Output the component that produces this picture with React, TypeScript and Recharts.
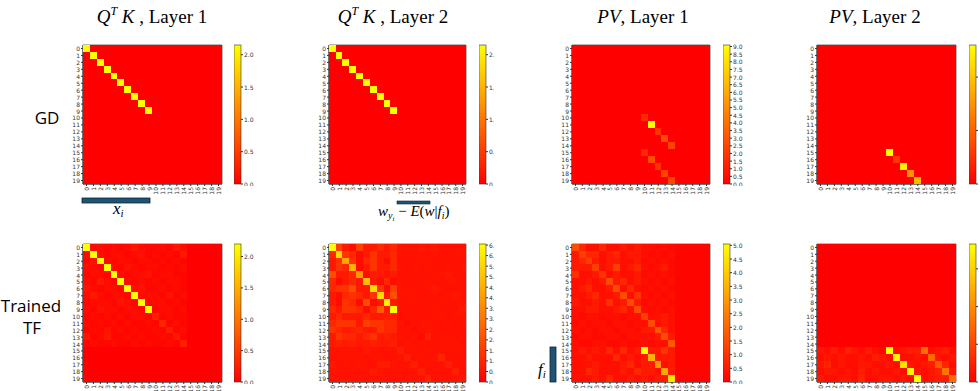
import { ScatterChart, Scatter, XAxis, YAxis, ReferenceArea, BarChart, Bar } from 'recharts'

type Cell = [number, number, number] // row, col, value

const SIZE = 20
const INDEX = Array.from({ length: SIZE }, (_, i) => i)

// GD, Q^T K layer 1 and layer 2: a block of ten yellow cells on the diagonal
const gdQk1Cells: Cell[] = [
  [0, 0, 2.15], [1, 1, 2.15], [2, 2, 2.15], [3, 3, 2.15], [4, 4, 2.15],
  [5, 5, 2.15], [6, 6, 2.15], [7, 7, 2.15], [8, 8, 2.15], [9, 9, 2.15],
]
const gdQk2Cells: Cell[] = [
  [0, 0, 2.15], [1, 1, 2.15], [2, 2, 2.15], [3, 3, 2.15], [4, 4, 2.15],
  [5, 5, 2.15], [6, 6, 2.15], [7, 7, 2.15], [8, 8, 2.15], [9, 9, 2.15],
]
// GD, PV
const gdPv1Cells: Cell[] = [
  [10, 10, 1.4], [11, 11, 9.1], [12, 12, 1.8], [13, 13, 2.7], [14, 14, 2.4],
  [15, 10, 1.4], [16, 11, 2.7], [17, 12, 1.8], [18, 13, 2.5], [19, 14, 2.5],
]
const gdPv2Cells: Cell[] = [
  [15, 10, 2.6], [16, 11, 0.55], [17, 12, 2.45], [18, 13, 1.5], [19, 14, 1.85],
]

// Trained TF, one string per row
const tfQk1Rows = [
  '2.15 0.05 0.1 0.05 0.1 0.05 0.1 0.2 0.1 0.05 0.05 0.1 0.05 0.2 0.1 0 0 0 0 0',
  '0.1 2.15 0.1 0.05 0.1 0.1 0.05 0.1 0.15 0.05 0.1 0.05 0.1 0.05 0.2 0 0 0 0 0',
  '0.05 0.15 2.15 0.1 0.05 0.1 0.1 0.05 0.1 0.1 0.05 0.1 0.05 0.1 0.05 0 0 0 0 0',
  '0.1 0.1 0.05 2.15 0.1 0.05 0.15 0.1 0.05 0.1 0.1 0.05 0.1 0.05 0.1 0 0 0 0 0',
  '0.05 0.1 0.1 0.05 2.15 0.1 0.05 0.1 0.1 0.15 0.05 0.1 0.1 0.05 0.05 0 0 0 0 0',
  '0.1 0.05 0.2 0.1 0.05 2.15 0.1 0.05 0.1 0.05 0.1 0.05 0.1 0.1 0.05 0 0 0 0 0',
  '0.15 0.1 0.05 0.1 0.1 0.05 2.15 0.1 0.15 0.05 0.05 0.1 0.05 0.1 0.05 0 0 0 0 0',
  '0.1 0.2 0.1 0.05 0.1 0.1 0.05 2.15 0.1 0.1 0.1 0.05 0.15 0.05 0.1 0 0 0 0 0',
  '0.05 0.1 0.1 0.1 0.05 0.15 0.1 0.05 2.15 0.05 0.1 0.1 0.05 0.1 0.05 0 0 0 0 0',
  '0.1 0.05 0.15 0.1 0.1 0.05 0.1 0.1 0.05 2.15 0.05 0.1 0.1 0.05 0.1 0 0 0 0 0',
  '0.05 0.1 0.05 0.1 0.05 0.1 0.05 0.1 0.1 0.05 0.25 0.05 0.1 0.05 0.05 0 0 0 0 0',
  '0.1 0.05 0.1 0.05 0.1 0.05 0.1 0.05 0.05 0.1 0.05 0.3 0.05 0.1 0.05 0 0 0 0 0',
  '0.05 0.1 0.05 0.15 0.05 0.1 0.05 0.1 0.05 0.05 0.1 0.05 0.25 0.05 0.1 0 0 0 0 0',
  '0.2 0.05 0.1 0.2 0.05 0.05 0.1 0.05 0.1 0.05 0.05 0.1 0.05 0.2 0.05 0 0 0 0 0',
  '0.05 0.1 0.05 0.05 0.1 0.05 0.05 0.1 0.05 0.1 0.05 0.05 0.1 0.05 0.25 0 0 0 0 0',
  '0 0 0 0 0 0 0 0 0 0 0 0 0 0 0 0 0 0 0 0',
  '0 0 0 0 0 0 0 0 0 0 0 0 0 0 0 0 0 0 0 0',
  '0 0 0 0 0 0 0 0 0 0 0 0 0 0 0 0 0 0 0 0',
  '0 0 0 0 0 0 0 0 0 0 0 0 0 0 0 0 0 0 0 0',
  '0 0 0 0 0 0 0 0 0 0 0 0 0 0 0 0 0 0 0 0',
]

const tfQk2Rows = [
  '6.55 1.6 0.65 0.3 1.6 0.65 0.65 1.0 0.65 1.0 0.5 0.5 0.4 0.6 0.5 0.6 0.5 0.4 0.5 0.4',
  '1.0 5.6 1.3 1.0 0.3 0.65 1.3 0.65 0.65 1.0 0.5 0.4 0.5 0.5 0.4 0.5 0.4 0.5 0.4 0.5',
  '0.65 1.3 4.3 1.3 0.3 1.0 1.3 0.65 0.3 1.0 0.4 0.5 0.4 0.5 0.5 0.4 0.5 0.4 0.5 0.4',
  '0.65 1.3 1.0 4.6 0.3 0.65 1.3 0.65 0.65 1.0 0.5 0.4 0.5 0.4 0.5 0.5 0.4 0.5 0.4 0.5',
  '2.0 0.65 0.65 1.0 3.9 0.3 0.65 0.65 0.5 0.65 0.4 0.5 0.5 0.4 0.4 0.5 0.5 0.6 0.4 0.4',
  '1.0 0.3 0.65 1.0 0.65 4.9 0.65 0.3 1.0 0.3 0.5 0.4 0.4 0.5 0.5 0.4 0.4 0.5 0.5 0.4',
  '1.0 1.3 1.3 2.0 0.65 0.65 5.6 1.3 0.3 1.6 0.5 0.5 0.4 0.4 0.5 0.6 0.5 0.4 0.4 0.5',
  '0.65 0.3 1.0 1.3 1.0 0.65 1.3 5.6 0.65 2.0 0.4 0.5 0.5 0.4 0.4 0.5 0.4 0.5 0.6 0.4',
  '0.65 0.3 1.3 1.0 0.3 2.0 0.3 0.65 6.2 0.65 0.5 0.4 0.5 0.5 0.5 0.4 0.5 0.4 0.5 0.5',
  '1.0 0.65 1.3 1.3 1.0 0.3 1.0 2.3 0.65 6.55 0.4 0.5 0.4 0.4 0.5 0.5 0.4 0.5 0.4 0.6',
  '0.65 1.0 0.65 0.65 0.65 1.0 0.65 0.65 0.8 0.8 0.3 0.4 0.5 0.4 0.4 0.5 0.5 0.4 0.5 0.4',
  '1.0 1.3 1.3 1.3 0.65 1.6 1.3 1.3 1.0 1.0 0.5 0.3 0.4 0.5 0.5 0.4 0.4 0.5 0.4 0.5',
  '1.3 1.0 0.65 0.8 1.0 0.65 0.65 1.3 1.0 1.0 0.4 0.5 0.3 0.4 0.5 0.5 0.4 0.4 0.5 0.4',
  '0.65 1.3 1.0 1.0 0.65 1.0 1.3 0.65 0.8 0.65 0.5 0.4 0.5 0.3 0.8 0.4 0.5 0.5 0.4 0.5',
  '0.65 0.8 0.65 0.8 0.65 0.65 0.8 0.65 0.65 0.8 0.4 0.5 0.4 0.5 0.4 0.5 0.4 0.5 0.5 0.4',
  '0.5 0.4 0.5 0.5 0.4 0.6 0.5 0.4 0.5 0.5 0.8 0.4 0.5 0.4 0.5 0.4 0.5 0.5 0.4 0.5',
  '0.4 0.5 0.4 0.5 0.5 0.4 0.5 0.5 0.4 0.4 0.5 0.8 0.4 0.5 0.4 0.5 0.9 0.4 0.5 0.4',
  '0.6 0.4 0.5 0.4 0.5 0.5 0.4 0.7 0.7 0.5 0.4 0.5 0.8 0.4 0.5 0.4 0.5 0.8 0.4 0.5',
  '0.5 0.5 0.4 0.5 0.4 0.5 0.7 0.5 0.4 0.5 0.5 0.4 0.5 0.8 0.4 0.5 0.4 0.5 0.8 0.4',
  '0.4 0.5 0.5 0.4 0.5 0.4 0.5 0.5 0.5 0.4 0.4 0.5 0.4 0.5 0.9 0.4 0.5 0.4 0.5 0.6',
]

const tfPv1Rows = [
  '1.5 0.75 0.3 0.3 0.75 0.3 0.3 0.5 0.3 0.5 0.3 0.3 0.2 0.3 0.2 0.1 0.1 0.1 0.1 0.1',
  '0.5 1.25 0.75 0.75 0.3 0.5 0.75 0.3 0.5 0.5 0.3 0.2 0.3 0.2 0.3 0.1 0.1 0.1 0.1 0.1',
  '0.5 0.75 1.25 0.5 0.3 0.5 0.5 0.3 0.3 0.5 0.2 0.3 0.2 0.3 0.2 0.1 0.1 0.1 0.1 0.1',
  '0.5 0.5 0.5 1.25 0.3 0.5 1.25 0.3 0.5 0.75 0.3 0.2 0.3 0.5 0.2 0.1 0.1 0.1 0.1 0.1',
  '1.0 0.3 0.3 0.5 1.0 0.3 0.5 0.3 0.3 0.5 0.2 0.3 0.2 0.3 0.2 0.1 0.1 0.1 0.1 0.1',
  '0.3 0.3 0.5 0.3 0.5 1.5 0.5 0.75 0.3 0.5 0.3 0.2 0.3 0.2 0.3 0.1 0.1 0.1 0.1 0.1',
  '0.3 0.5 0.75 0.3 0.3 0.5 1.5 0.3 0.75 0.3 0.2 0.3 0.2 0.3 0.2 0.1 0.1 0.1 0.1 0.1',
  '0.3 0.3 0.5 0.75 0.3 0.3 0.5 1.5 0.3 1.0 0.3 0.2 0.3 0.2 0.3 0.1 0.1 0.1 0.1 0.1',
  '0.5 0.3 0.3 0.5 0.3 1.0 0.3 0.5 1.5 0.5 0.2 0.3 0.2 0.3 0.2 0.1 0.1 0.1 0.1 0.1',
  '0.3 0.3 0.5 0.5 0.3 0.3 0.5 0.75 0.3 1.5 0.3 0.2 0.3 0.2 0.3 0.1 0.1 0.1 0.1 0.1',
  '0.3 0.2 0.3 0.3 0.2 0.3 0.3 0.2 0.3 0.3 1.25 0.3 0.3 0.5 0.3 0.1 0.1 0.1 0.1 0.1',
  '0.2 0.3 0.2 0.3 0.3 0.2 0.3 0.3 0.2 0.3 0.3 1.5 0.3 0.5 0.3 0.1 0.1 0.1 0.1 0.1',
  '0.3 0.2 0.3 0.2 0.3 0.3 0.2 0.3 0.3 0.2 0.5 0.5 1.75 0.75 0.3 0.1 0.1 0.1 0.1 0.1',
  '0.2 0.3 0.3 0.2 0.2 0.3 0.3 0.2 0.3 0.3 0.3 0.3 0.5 1.5 0.5 0.1 0.1 0.1 0.1 0.1',
  '0.3 0.2 0.2 0.3 0.3 0.2 0.2 0.3 0.2 0.2 0.3 0.2 0.3 0.3 1.75 0.1 0.1 0.1 0.1 0.1',
  '0.3 0.5 0.3 0.5 0.3 0.75 0.3 0.75 0.3 0.5 5.05 0.5 0.5 1.0 0.5 0.1 0.1 0.1 0.1 0.1',
  '0.3 0.3 0.5 0.3 0.3 0.3 0.75 0.3 0.5 0.3 0.5 3.5 0.5 0.5 0.5 0.1 0.1 0.1 0.1 0.1',
  '0.3 0.3 0.3 0.5 0.3 0.3 0.3 0.5 0.75 0.3 0.5 0.5 3.0 0.3 0.5 0.1 0.1 0.1 0.1 0.1',
  '0.3 0.3 0.75 0.5 0.3 0.3 0.3 0.5 0.3 0.75 0.5 0.5 0.3 3.3 0.5 0.1 0.1 0.1 0.1 0.1',
  '0.3 0.3 0.3 0.5 0.3 0.75 0.3 0.3 0.5 0.3 0.5 0.3 0.5 0.5 4.5 0.1 0.1 0.1 0.1 0.1',
]

const tfPv2Rows = [
  '0 0 0 0 0 0 0 0 0 0 0 0 0 0 0 0 0 0 0 0',
  '0 0 0 0 0 0 0 0 0 0 0 0 0 0 0 0 0 0 0 0',
  '0 0 0 0 0 0 0 0 0 0 0 0 0 0 0 0 0 0 0 0',
  '0 0 0 0 0 0 0 0 0 0 0 0 0 0 0 0 0 0 0 0',
  '0 0 0 0 0 0 0 0 0 0 0 0 0 0 0 0 0 0 0 0',
  '0 0 0 0 0 0 0 0 0 0 0 0 0 0 0 0 0 0 0 0',
  '0 0 0 0 0 0 0 0 0 0 0 0 0 0 0 0 0 0 0 0',
  '0 0 0 0 0 0 0 0 0 0 0 0 0 0 0 0 0 0 0 0',
  '0 0 0 0 0 0 0 0 0 0 0 0 0 0 0 0 0 0 0 0',
  '0 0 0 0 0 0 0 0 0 0 0 0 0 0 0 0 0 0 0 0',
  '0 0 0 0 0 0 0 0 0 0 0 0 0 0 0 0 0 0 0 0',
  '0 0 0 0 0 0 0 0 0 0 0 0 0 0 0 0 0 0 0 0',
  '0 0 0 0 0 0 0 0 0 0 0 0 0 0 0 0 0 0 0 0',
  '0 0 0 0 0 0 0 0 0 0 0 0 0 0 0 0 0 0 0 0',
  '0 0 0 0 0 0 0 0 0 0 0 0 0 0 0 0 0 0 0 0',
  '0.3 0.2 0.4 0.2 0.5 0.3 0.2 0.4 0.2 0.1 3.66 0.2 0.3 0.4 0.4 1.6 0.2 0.3 0.4 0.2',
  '0.2 0.3 0.2 0.3 0.2 0.2 0.3 0.2 0.4 0.3 0.2 3.5 0.2 0.2 0.3 0.2 1.5 0.3 0.2 0.3',
  '0.3 0.5 0.2 0.3 0.2 0.2 0.3 0.3 0.2 0.2 0.3 0.2 3.2 0.3 0.2 0.3 0.4 1.3 0.5 0.2',
  '0.2 0.3 0.3 0.2 0.3 0.2 0.4 0.2 0.3 0.2 0.2 0.3 0.2 3.5 0.3 0.2 0.3 0.5 1.7 0.3',
  '0.3 0.2 0.2 0.3 0.3 0.2 0.5 0.2 0.2 0.3 0.3 0.2 0.3 0.2 3.66 0.2 0.3 0.4 0.4 1.6',
]

// colour bar ranges and ticks
const qkMax = 2.15
const qkTicks = [0, 0.5, 1, 1.5, 2]
const gdPv1Max = 9.1
const gdPv1Ticks = [0, 0.5, 1, 1.5, 2, 2.5, 3, 3.5, 4, 4.5, 5, 5.5, 6, 6.5, 7, 7.5, 8, 8.5, 9]
const gdPv2Max = 2.6
const gdPv2Ticks = [0, 1, 2]
const tfQk2Max = 6.55
const tfQk2Ticks = [0, 0.5, 1, 1.5, 2, 2.5, 3, 3.5, 4, 4.5, 5, 5.5, 6, 6.5]
const tfPv1Max = 5.05
const tfPv1Ticks = [0, 0.5, 1, 1.5, 2, 2.5, 3, 3.5, 4, 4.5, 5]
const tfPv2Max = 3.66
const tfPv2Ticks = [0, 1, 2, 3]

const fromCells = (cells: Cell[]) => {
  const g = INDEX.map(() => INDEX.map(() => 0))
  cells.forEach(([r, c, v]) => { g[r][c] = v })
  return g
}
const fromRows = (rows: string[]) => rows.map((l) => l.trim().split(/\s+/).map(Number))

const autumn = (v: number, max: number) => {
  const t = Math.max(0, Math.min(1, v / max))
  return `rgb(255,${Math.round(255 * t)},0)`
}

const TICK_FONT = 'DejaVu Sans'
const AXIS = '#333'

function XTick({ x, y, payload }: any) {
  return (
    <text
      transform={`translate(${x},${y}) rotate(-90)`}
      textAnchor="end"
      dominantBaseline="central"
      fontSize={6}
      fill={AXIS}
      fontFamily={TICK_FONT}
    >
      {payload.value}
    </text>
  )
}

function YTick({ x, y, payload }: any) {
  return (
    <text x={x} y={y} textAnchor="end" dominantBaseline="central" fontSize={6} fill={AXIS} fontFamily={TICK_FONT}>
      {payload.value}
    </text>
  )
}

function BarTick({ x, y, payload }: any) {
  return (
    <text x={x} y={y} textAnchor="start" dominantBaseline="central" fontSize={6} fill={AXIS} fontFamily={TICK_FONT}>
      {Number(payload.value).toFixed(1)}
    </text>
  )
}

interface HeatmapProps {
  grid: number[][]
  max: number
  left: number
  top: number
  w: number
  h: number
}

function Heatmap({ grid, max, left, top, w, h }: HeatmapProps) {
  const data: { x: number; y: number; v: number }[] = []
  grid.forEach((row, y) => row.forEach((v, x) => data.push({ x, y, v })))
  const cw = w / SIZE
  const ch = h / SIZE
  const yw = 22
  return (
    <div style={{ position: 'absolute', left: left - yw, top: top - 2 }}>
      <ScatterChart width={yw + w + 2} height={h + 2 + 14} margin={{ top: 2, right: 2, bottom: 0, left: 0 }}>
        <XAxis
          type="number"
          dataKey="x"
          domain={[-0.5, 19.5]}
          ticks={INDEX}
          interval={0}
          height={14}
          tickSize={2}
          tickMargin={1}
          stroke={AXIS}
          tick={<XTick />}
        />
        <YAxis
          type="number"
          dataKey="y"
          domain={[-0.5, 19.5]}
          reversed
          ticks={INDEX}
          interval={0}
          width={yw}
          tickSize={2}
          tickMargin={1}
          stroke={AXIS}
          tick={<YTick />}
        />
        <Scatter
          data={data}
          isAnimationActive={false}
          shape={(p: any) => (
            <rect
              x={p.cx - cw / 2 - 0.3}
              y={p.cy - ch / 2 - 0.3}
              width={cw + 0.6}
              height={ch + 0.6}
              fill={autumn(p.payload.v, max)}
              shapeRendering="crispEdges"
            />
          )}
        />
        <ReferenceArea x1={-0.5} x2={19.5} y1={-0.5} y2={19.5} fill="none" stroke={AXIS} strokeWidth={0.7} ifOverflow="visible" />
      </ScatterChart>
    </div>
  )
}

interface ColorbarProps {
  id: string
  max: number
  ticks: number[]
  left: number
  top: number
  h: number
  clip?: number
}

function Colorbar({ id, max, ticks, left, top, h, clip }: ColorbarProps) {
  const w = 7
  const aw = 22
  return (
    <div style={{ position: 'absolute', left, top: top - 2, width: clip ?? w + aw, height: h + 4, overflow: 'hidden' }}>
      <BarChart width={w + aw} height={h + 4} data={[{ name: 'bar', v: max }]} margin={{ top: 2, right: 0, bottom: 2, left: 0 }} barCategoryGap={0}>
        <XAxis dataKey="name" hide />
        <YAxis
          orientation="right"
          type="number"
          domain={[0, max]}
          ticks={ticks}
          interval={0}
          width={aw}
          tickSize={2}
          tickMargin={1}
          axisLine={false}
          stroke={AXIS}
          tick={<BarTick />}
        />
        <Bar
          dataKey="v"
          isAnimationActive={false}
          shape={(p: any) => (
            <g>
              <defs>
                <linearGradient id={id} x1="0" y1="0" x2="0" y2="1">
                  <stop offset="0" stopColor="#ffff00" />
                  <stop offset="1" stopColor="#ff0000" />
                </linearGradient>
              </defs>
              <rect x={p.x} y={p.y} width={p.width} height={p.height} fill={`url(#${id})`} stroke={AXIS} strokeWidth={0.6} />
            </g>
          )}
        />
      </BarChart>
    </div>
  )
}

const SERIF = 'Liberation Serif'

function Title({ x, children }: { x: number; children: any }) {
  return (
    <text x={x} y={23} textAnchor="middle" fontFamily={SERIF} fontSize={19} fill="#000">
      {children}
    </text>
  )
}

const QK = (n: string) => [
  <tspan key="q" fontStyle="italic">Q</tspan>,
  <tspan key="t" fontStyle="italic" fontSize={12} dy={-8}>T</tspan>,
  <tspan key="k" fontStyle="italic" dy={8}> K</tspan>,
  <tspan key="l"> , Layer {n}</tspan>,
]

const PV = (n: string) => [
  <tspan key="p" fontStyle="italic">PV</tspan>,
  <tspan key="l">, Layer {n}</tspan>,
]

export default function App() {
  const r1 = 45
  const r2 = 244
  return (
    <div style={{ position: 'absolute', left: 0, top: 0, width: 980, height: 391, overflow: 'hidden', background: '#fff' }}>
      <Heatmap grid={fromCells(gdQk1Cells)} max={qkMax} left={83} top={r1} w={139} h={139} />
      <Colorbar id="cb1" max={qkMax} ticks={qkTicks} left={234} top={r1} h={139} />
      <Heatmap grid={fromCells(gdQk2Cells)} max={qkMax} left={329} top={r1} w={137} h={139} />
      <Colorbar id="cb2" max={qkMax} ticks={qkTicks} left={479} top={r1} h={139} clip={15} />
      <Heatmap grid={fromCells(gdPv1Cells)} max={gdPv1Max} left={572} top={r1} w={138} h={139} />
      <Colorbar id="cb3" max={gdPv1Max} ticks={gdPv1Ticks} left={723} top={r1} h={139} />
      <Heatmap grid={fromCells(gdPv2Cells)} max={gdPv2Max} left={817} top={r1} w={139} h={139} />
      <Colorbar id="cb4" max={gdPv2Max} ticks={gdPv2Ticks} left={969} top={r1} h={139} clip={10} />

      <Heatmap grid={fromRows(tfQk1Rows)} max={qkMax} left={83} top={r2} w={139} h={138} />
      <Colorbar id="cb5" max={2.2} ticks={qkTicks} left={234} top={r2} h={138} />
      <Heatmap grid={fromRows(tfQk2Rows)} max={tfQk2Max} left={329} top={r2} w={137} h={138} />
      <Colorbar id="cb6" max={tfQk2Max} ticks={tfQk2Ticks} left={479} top={r2} h={138} clip={15} />
      <Heatmap grid={fromRows(tfPv1Rows)} max={tfPv1Max} left={572} top={r2} w={138} h={138} />
      <Colorbar id="cb7" max={tfPv1Max} ticks={tfPv1Ticks} left={723} top={r2} h={138} />
      <Heatmap grid={fromRows(tfPv2Rows)} max={tfPv2Max} left={817} top={r2} w={139} h={138} />
      <Colorbar id="cb8" max={tfPv2Max} ticks={tfPv2Ticks} left={969} top={r2} h={138} clip={10} />

      <svg width={980} height={391} style={{ position: 'absolute', left: 0, top: 0, pointerEvents: 'none' }}>
        <Title x={152}>{QK('1')}</Title>
        <Title x={393}>{QK('2')}</Title>
        <Title x={643}>{PV('1')}</Title>
        <Title x={875}>{PV('2')}</Title>

        <text x={47} y={124} textAnchor="middle" fontFamily="Open Sans" fontSize={17} fill="#000">GD</text>
        <text x={31} y={312} textAnchor="middle" fontFamily="Open Sans" fontSize={17} fill="#000">Trained</text>
        <text x={32} y={334} textAnchor="middle" fontFamily="Open Sans" fontSize={17} fill="#000">TF</text>

        <rect x={82} y={198} width={68} height={5} fill="#1f5373" stroke="#0c2535" strokeWidth={0.8} />
        <text x={113} y={214} fontFamily={SERIF} fontSize={17} fill="#000">
          <tspan fontStyle="italic">x</tspan>
          <tspan fontStyle="italic" fontSize={11} dy={3}>i</tspan>
        </text>

        <rect x={397} y={201} width={33} height={3} fill="#1f5373" stroke="#0c2535" strokeWidth={0.6} />
        <text x={378} y={216} fontFamily={SERIF} fontSize={15} fill="#000">
          <tspan fontStyle="italic">w</tspan>
          <tspan fontStyle="italic" fontSize={10} dy={3}>y</tspan>
          <tspan fontStyle="italic" fontSize={7} dy={2}>i</tspan>
          <tspan dy={-5}> − </tspan>
          <tspan fontStyle="italic">E</tspan>
          <tspan>(</tspan>
          <tspan fontStyle="italic">w</tspan>
          <tspan>|</tspan>
          <tspan fontStyle="italic">f</tspan>
          <tspan fontStyle="italic" fontSize={10} dy={3}>i</tspan>
          <tspan dy={-3}>)</tspan>
        </text>

        <rect x={550} y={347} width={6} height={35} fill="#1f5373" stroke="#0c2535" strokeWidth={0.8} />
        <text x={538} y={375} fontFamily={SERIF} fontSize={17} fill="#000">
          <tspan fontStyle="italic">f</tspan>
          <tspan fontStyle="italic" fontSize={11} dy={3}>i</tspan>
        </text>
      </svg>
    </div>
  )
}
